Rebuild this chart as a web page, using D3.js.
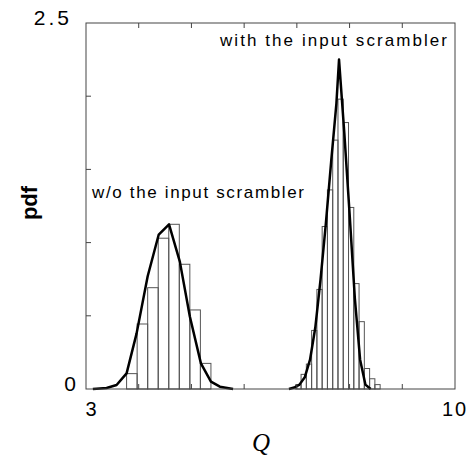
<!DOCTYPE html>
<html>
<head>
<meta charset="utf-8">
<script src="https://cdn.jsdelivr.net/npm/d3@7"></script>
<style>
  body { margin: 0; background: #fff; }
  text { font-family: Arial, "Liberation Sans", sans-serif; fill: #000; }
</style>
</head>
<body>
<svg id="chart" width="471" height="462"></svg>
<script>
// left histogram (w/o scrambler), bin width 0.2
const leftStart = 3.77, leftWidth = 0.2;
const leftBars = [0.105, 0.444, 0.692, 1.03, 1.125, 0.852, 0.54, 0.175];
// right histogram (with scrambler), bin width 0.1
const rightStart = 6.98, rightWidth = 0.1;
const rightBars = [0.03, 0.10, 0.17, 0.40, 0.68, 1.11, 1.36, 1.70, 1.98, 1.82, 1.24, 0.72, 0.46, 0.14, 0.07, 0.03];

// thick curves
const leftCurveQ = [3.13, 3.20, 3.39, 3.58, 3.77, 3.96, 4.17, 4.38, 4.575, 4.78, 4.97, 5.18, 5.37, 5.54, 5.79];
const leftCurveP = [0, 0.002, 0.007, 0.027, 0.107, 0.38, 0.77, 1.055, 1.125, 0.87, 0.495, 0.175, 0.05, 0.016, 0];
const rightCurveQ = [6.85, 6.95, 7.05, 7.15, 7.25, 7.35, 7.45, 7.55, 7.65, 7.75, 7.80, 7.90, 8.00, 8.10, 8.20, 8.30, 8.40];
const rightCurveP = [0, 0.01, 0.03, 0.08, 0.2, 0.42, 0.75, 1.13, 1.55, 1.95, 2.25, 1.75, 1.2, 0.62, 0.2, 0.03, 0];

const xTicks = [3, 4, 5, 6, 7, 8, 9, 10];
const yTicks = [0, 0.5, 1, 1.5, 2, 2.5];
const xLabels = [3, 10];
const yLabels = [0, 2.5];

const svg = d3.select("#chart");
const x = d3.scaleLinear().domain([3, 10]).range([86, 455]);
const y = d3.scaleLinear().domain([0, 2.5]).range([389, 23]);

// histogram bars
function drawBars(vals, start, w) {
    svg.append("g")
        .selectAll("rect")
        .data(vals)
        .join("rect")
        .attr("x", (d, i) => x(start + i * w))
        .attr("y", d => y(d))
        .attr("width", (d, i) => x(start + (i + 1) * w) - x(start + i * w))
        .attr("height", d => y(0) - y(d))
        .attr("fill", "none")
        .attr("stroke", "#555")
        .attr("stroke-width", 1);
}
drawBars(leftBars, leftStart, leftWidth);
drawBars(rightBars, rightStart, rightWidth);

// curves
const line = d3.line().x(d => x(d[0])).y(d => y(d[1]));
[[leftCurveQ, leftCurveP], [rightCurveQ, rightCurveP]].forEach(([qs, ps]) => {
    svg.append("path")
        .datum(qs.map((q, i) => [q, ps[i]]))
        .attr("d", line)
        .attr("fill", "none")
        .attr("stroke", "#000")
        .attr("stroke-width", 2.5)
        .attr("stroke-linejoin", "round");
});

// frame
svg.append("rect")
    .attr("x", x(3)).attr("y", y(2.5))
    .attr("width", x(10) - x(3)).attr("height", y(0) - y(2.5))
    .attr("fill", "none").attr("stroke", "#444").attr("stroke-width", 1);

// inward ticks
const tk = 5;
svg.append("g").selectAll("line")
    .data(xTicks.slice(1, -1))
    .join("line")
    .attr("x1", d => x(d)).attr("x2", d => x(d))
    .attr("y1", y(2.5)).attr("y2", y(2.5) + tk)
    .attr("stroke", "#444");
svg.append("g").selectAll("line")
    .data(xTicks.slice(1, -1))
    .join("line")
    .attr("x1", d => x(d)).attr("x2", d => x(d))
    .attr("y1", y(0)).attr("y2", y(0) - tk)
    .attr("stroke", "#444");
svg.append("g").selectAll("line")
    .data(yTicks.slice(1, -1))
    .join("line")
    .attr("x1", x(3)).attr("x2", x(3) + tk)
    .attr("y1", d => y(d)).attr("y2", d => y(d))
    .attr("stroke", "#444");

// tick labels
svg.append("g").selectAll("text")
    .data(xLabels)
    .join("text")
    .attr("x", d => x(d) + (d === 3 ? 5 : 0))
    .attr("y", 416)
    .attr("text-anchor", "middle")
    .style("font-size", "20px")
    .style("letter-spacing", d => d === 10 ? "2px" : "0px")
    .text(d => d);
svg.append("g").selectAll("text")
    .data(yLabels)
    .join("text")
    .attr("x", d => d === 0 ? 76 : 72)
    .attr("y", d => y(d) + (d === 0 ? 2 : 2))
    .attr("text-anchor", "end")
    .style("font-size", "21px")
    .style("letter-spacing", d => d === 0 ? "0px" : "3px")
    .text(d => d);

// axis titles
svg.append("text")
    .attr("x", 261).attr("y", 451)
    .attr("text-anchor", "middle")
    .style("font-family", "'Liberation Serif', 'DejaVu Serif', serif")
    .style("font-style", "italic")
    .style("font-size", "25px")
    .text("Q");
svg.append("text")
    .attr("transform", "translate(37,203) rotate(-90)")
    .attr("text-anchor", "middle")
    .style("font-size", "22px")
    .style("font-weight", "bold")
    .text("pdf");

// annotations
svg.append("text")
    .attr("x", 220).attr("y", 46)
    .attr("textLength", 227).attr("lengthAdjust", "spacing")
    .style("font-size", "17px")
    .text("with the input scrambler");
svg.append("text")
    .attr("x", 92).attr("y", 198)
    .attr("textLength", 212).attr("lengthAdjust", "spacing")
    .style("font-size", "17px")
    .text("w/o the input scrambler");
</script>
</body>
</html>
